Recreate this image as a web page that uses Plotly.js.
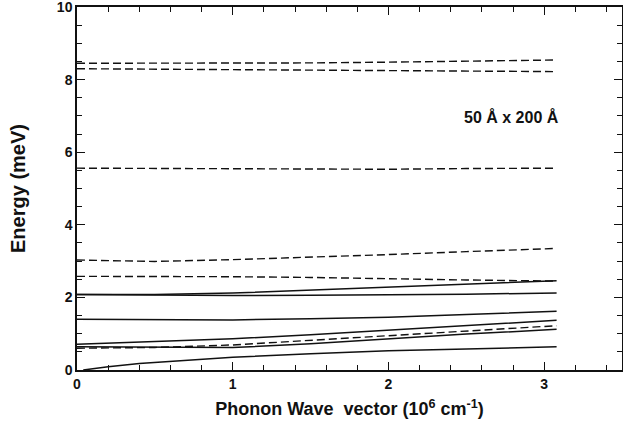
<!DOCTYPE html>
<html>
<head>
<meta charset="utf-8">
<script src="https://cdn.plot.ly/plotly-3.0.1.min.js"></script>
<style>html,body{margin:0;padding:0;background:#fff;}#chart{width:623px;height:444px;}</style>
</head>
<body>
<div id="chart"></div>
<script>
// wave vector samples (10^6 cm^-1)
const q = [0, 0.5, 1, 1.5, 2, 2.5, 3.08];
const qAc = [0.04, 0.2, 0.4, 0.5, 1, 1.5, 2, 2.5, 3.08];

// dashed branches (meV)
const dashed1 = [8.45, 8.45, 8.45, 8.46, 8.48, 8.50, 8.54];
const dashed2 = [8.30, 8.29, 8.28, 8.27, 8.26, 8.24, 8.22];
const dashed3 = [5.56, 5.55, 5.54, 5.52, 5.53, 5.55, 5.56];
const dashed4 = [3.03, 2.99, 3.04, 3.10, 3.18, 3.26, 3.35];
const dashed5 = [2.58, 2.58, 2.57, 2.55, 2.51, 2.48, 2.45];
const dashed6 = [0.60, 0.62, 0.69, 0.82, 0.95, 1.08, 1.22];

// solid branches (meV)
const solid1 = [2.08, 2.08, 2.12, 2.20, 2.29, 2.37, 2.46];
const solid2 = [2.08, 2.06, 2.05, 2.06, 2.07, 2.09, 2.12];
const solid3 = [1.40, 1.39, 1.38, 1.41, 1.45, 1.53, 1.62];
const solid4 = [0.71, 0.78, 0.86, 0.97, 1.10, 1.23, 1.37];
const solid5 = [0.64, 0.63, 0.62, 0.72, 0.86, 0.99, 1.12];
const acoustic = [0.0, 0.09, 0.18, 0.21, 0.35, 0.45, 0.53, 0.58, 0.64];

// axis ticks
const xTickVals = [0, 1, 2, 3];
const xTickText = ['0', '1', '2', '3'];
const xMinorVals = [0.2, 0.4, 0.6, 0.8, 1.2, 1.4, 1.6, 1.8, 2.2, 2.4, 2.6, 2.8, 3.2, 3.4];
const yTickVals = [0, 2, 4, 6, 8, 10];
const yTickText = ['0', '2', '4', '6', '8', '10'];
const yMinorVals = [0.5, 1, 1.5, 2.5, 3, 3.5, 4.5, 5, 5.5, 6.5, 7, 7.5, 8.5, 9, 9.5];

const annotationText = "50 Å x 200 Å";
const xTitle = "Phonon Wave  vector (10<sup>6</sup> cm<sup>-1</sup>)";
const yTitle = "Energy (meV)";

const dashedSet = [dashed1, dashed2, dashed3, dashed4, dashed5, dashed6];
const solidSet = [solid1, solid2, solid3, solid4, solid5];

const traces = [];
dashedSet.forEach(y => traces.push({x: q, y: y, mode: 'lines', line: {color: '#111', width: 1.4, dash: '8px,4px'}, hoverinfo: 'skip'}));
solidSet.forEach(y => traces.push({x: q, y: y, mode: 'lines', line: {color: '#111', width: 1.5}, hoverinfo: 'skip'}));
traces.push({x: qAc, y: acoustic, mode: 'lines', line: {color: '#111', width: 1.5}, hoverinfo: 'skip'});

const fontFam = 'Liberation Sans, Arial, Helvetica, sans-serif';
const axisCommon = {
  showgrid: false, zeroline: false, showline: true, linecolor: '#111', linewidth: 1.5,
  mirror: 'ticks', ticks: 'inside', ticklen: 8, tickwidth: 1.3, tickcolor: '#111',
  tickfont: {family: fontFam, size: 14, color: '#111', weight: 'bold'}
};

const layout = {
  width: 623, height: 444,
  margin: {l: 77, r: 1, t: 7, b: 74},
  paper_bgcolor: '#fff', plot_bgcolor: '#fff',
  showlegend: false,
  xaxis: Object.assign({}, axisCommon, {
    range: [0, 3.5], tickvals: xTickVals, ticktext: xTickText,
    minor: {tickvals: xMinorVals, ticks: 'inside', ticklen: 5, tickwidth: 1, tickcolor: '#111'},
    title: {text: xTitle, font: {family: fontFam, size: 18, color: '#111', weight: 'bold'}, standoff: 12}
  }),
  yaxis: Object.assign({}, axisCommon, {
    range: [0, 10], tickvals: yTickVals, ticktext: yTickText, ticklabeloverflow: 'allow',
    minor: {tickvals: yMinorVals, ticks: 'inside', ticklen: 5, tickwidth: 1, tickcolor: '#111'},
    title: {text: yTitle, font: {family: fontFam, size: 20, color: '#111', weight: 'bold'}, standoff: 26}
  }),
  annotations: [{
    x: 2.79, y: 6.98, xref: 'x', yref: 'y', text: annotationText, showarrow: false,
    font: {family: fontFam, size: 16, color: '#111', weight: 'bold'}
  }]
};

Plotly.newPlot('chart', traces, layout, {displayModeBar: false});
</script>
</body>
</html>
